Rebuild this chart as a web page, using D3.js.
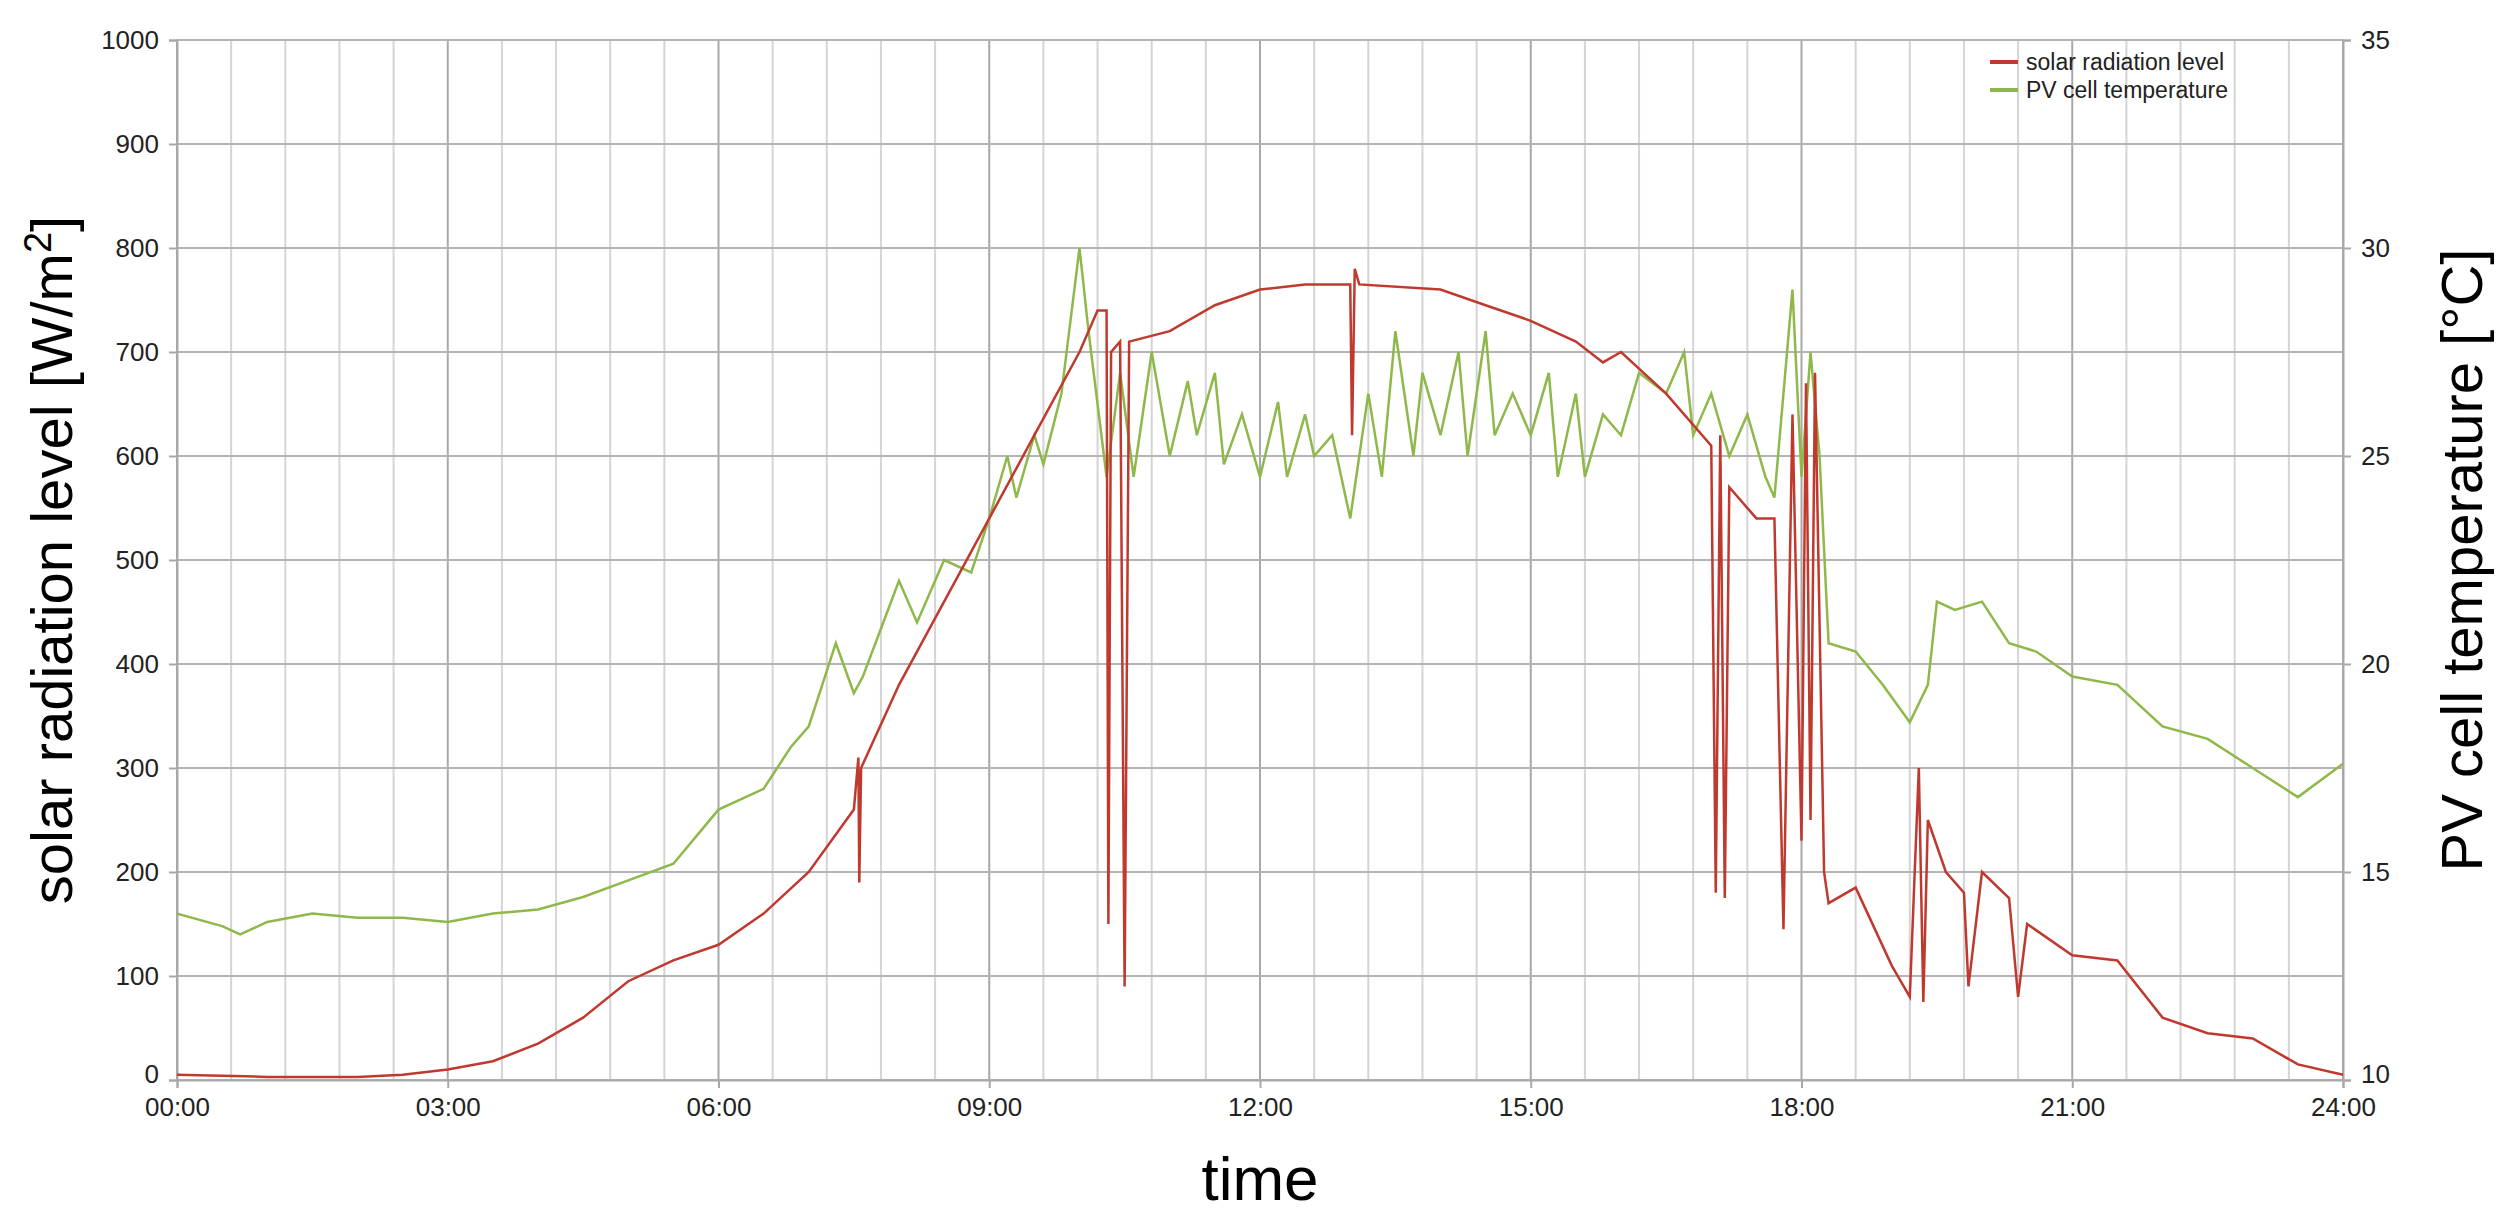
<!DOCTYPE html>
<html><head><meta charset="utf-8">
<script src="https://cdn.jsdelivr.net/npm/d3@7"></script>
<style>body{margin:0;background:#fff;font-family:"Liberation Sans",Arial,sans-serif}</style>
</head><body>
<script>
"use strict";

// hours of day, W/m2
const RAD_T = [0,1,2,2.5,3,3.5,4,4.5,5,5.5,6,6.5,7,7.5,7.55,7.56,7.58,8,8.5,9,9.5,10,10.2,10.3,10.32,10.35,10.45,10.5,10.55,11,11.5,12,12.5,13,13.02,13.05,13.1,14,14.5,15,15.5,15.8,16,16.5,17,17.05,17.1,17.15,17.2,17.5,17.7,17.8,17.9,18,18.05,18.1,18.15,18.25,18.3,18.6,19,19.2,19.3,19.35,19.4,19.6,19.8,19.85,20,20.3,20.4,20.5,21,21.5,22,22.5,23,23.5,24];
const RAD_V = [5,3,3,5,10,18,35,60,95,115,130,160,200,260,310,190,300,380,460,540,620,700,740,740,150,700,710,90,710,720,745,760,765,765,620,780,765,760,745,730,710,690,700,660,610,180,620,175,570,540,540,145,640,230,670,250,680,200,170,185,110,80,300,75,250,200,180,90,200,175,80,150,120,115,60,45,40,15,5];

// hours of day, degC
const TEMP_T = [0,0.5,0.7,1,1.5,2,2.5,3,3.5,4,4.5,5,5.5,6,6.3,6.5,6.8,7,7.3,7.5,7.6,8,8.2,8.5,8.8,9,9.2,9.3,9.5,9.6,9.8,10,10.1,10.3,10.45,10.6,10.8,11,11.2,11.3,11.5,11.6,11.8,12,12.2,12.3,12.5,12.6,12.8,13,13.2,13.35,13.5,13.7,13.8,14,14.2,14.3,14.5,14.6,14.8,15,15.2,15.3,15.5,15.6,15.8,16,16.2,16.5,16.7,16.8,17,17.2,17.4,17.6,17.7,17.9,18,18.1,18.2,18.3,18.6,18.9,19.2,19.4,19.5,19.7,20,20.3,20.6,21,21.5,22,22.5,23,23.5,24];
const TEMP_V = [14.0,13.7,13.5,13.8,14.0,13.9,13.9,13.8,14.0,14.1,14.4,14.8,15.2,16.5,16.8,17.0,18.0,18.5,20.5,19.3,19.7,22,21,22.5,22.2,23.5,25,24,25.5,24.8,26.5,30,28,24.5,27,24.5,27.5,25,26.8,25.5,27,24.8,26,24.5,26.3,24.5,26,25,25.5,23.5,26.5,24.5,28,25,27,25.5,27.5,25,28,25.5,26.5,25.5,27,24.5,26.5,24.5,26,25.5,27,26.5,27.5,25.5,26.5,25,26,24.5,24,29,24.5,27.5,25,20.5,20.3,19.5,18.6,19.5,21.5,21.3,21.5,20.5,20.3,19.7,19.5,18.5,18.2,17.5,16.8,17.6];

const LEFT_TICKS = d3.range(0, 1001, 100);
const RIGHT_TICKS = [10, 15, 20, 25, 30, 35];
const X_TICKS = d3.range(0, 25, 3);

const W = 2504, H = 1225;
const M = { left: 177, top: 40, right: 161, bottom: 145 };
const PW = W - M.left - M.right, PH = H - M.top - M.bottom;

const svg = d3.select("body").append("svg").attr("width", W).attr("height", H);
const g = svg.append("g").attr("transform", `translate(${M.left},${M.top})`);

const x = d3.scaleLinear().domain([0, 24]).range([0, PW]);
const yL = d3.scaleLinear().domain([0, 1000]).range([PH, 0]);
const yR = d3.scaleLinear().domain([10, 35]).range([PH, 0]);

// grid
g.selectAll("line.vx").data(d3.range(0, 24.01, 0.6)).join("line")
    .attr("x1", d => x(d)).attr("x2", d => x(d)).attr("y1", 0).attr("y2", PH)
    .attr("stroke", (d, i) => i % 5 === 0 ? "#a8a8a8" : "#d4d4d4").attr("stroke-width", 2);
g.selectAll("line.hy").data(LEFT_TICKS).join("line")
    .attr("x1", 0).attr("x2", PW).attr("y1", d => yL(d)).attr("y2", d => yL(d))
    .attr("stroke", "#b4b4b4").attr("stroke-width", 2);

const fmt = h => String(h).padStart(2, "0") + ":00";
const ax = g.append("g").attr("transform", `translate(0,${PH})`)
    .call(d3.axisBottom(x).tickValues(X_TICKS).tickFormat(fmt).tickSize(8).tickPadding(10));
const al = g.append("g").call(d3.axisLeft(yL).tickValues(LEFT_TICKS).tickFormat(d3.format("d")).tickSize(8).tickPadding(10));
const ar = g.append("g").attr("transform", `translate(${PW},0)`)
    .call(d3.axisRight(yR).tickValues(RIGHT_TICKS).tickSize(8).tickPadding(10));
[ax, al, ar].forEach(a => {
    a.selectAll("text").attr("font-size", 26).attr("fill", "#222").attr("font-family", "Liberation Sans, Arial");
    a.selectAll("line,path").attr("stroke", "#a8a8a8").attr("stroke-width", 2);
});
al.selectAll(".tick").filter(d => d === 0).select("text").attr("dy", "0.1em");
ar.selectAll(".tick").filter(d => d === 10).select("text").attr("dy", "0.1em");

const radData = RAD_T.map((t, i) => [t, RAD_V[i]]);
const tempData = TEMP_T.map((t, i) => [t, TEMP_V[i]]);

g.append("path").attr("d", d3.line().x(d => x(d[0])).y(d => yR(d[1]))(tempData))
    .attr("fill", "none").attr("stroke", "#8fb84a").attr("stroke-width", 2.5);
g.append("path").attr("d", d3.line().x(d => x(d[0])).y(d => yL(d[1]))(radData))
    .attr("fill", "none").attr("stroke", "#c0392f").attr("stroke-width", 2.5);

// legend
const leg = svg.append("g").attr("transform", "translate(1990,62)");
[["solar radiation level", "#c0392f"], ["PV cell temperature", "#8fb84a"]].forEach((s, i) => {
    leg.append("line").attr("x1", 0).attr("x2", 28).attr("y1", i * 28).attr("y2", i * 28)
        .attr("stroke", s[1]).attr("stroke-width", 4);
    leg.append("text").attr("x", 36).attr("y", i * 28 + 8).attr("font-size", 23).attr("fill", "#222").text(s[0]);
});

// titles
svg.append("text").attr("x", M.left + PW / 2).attr("y", 1200).attr("text-anchor", "middle")
    .attr("font-size", 62).text("time");
const lt = svg.append("text").attr("transform", `translate(72,${M.top + PH / 2}) rotate(-90)`)
    .attr("text-anchor", "middle").attr("font-size", 58);
lt.append("tspan").text("solar radiation level [W/m");
lt.append("tspan").attr("baseline-shift", "super").attr("font-size", 38).text("2");
lt.append("tspan").text("]");
svg.append("text").attr("transform", `translate(2482,${M.top + PH / 2}) rotate(-90)`)
    .attr("text-anchor", "middle").attr("font-size", 58).text("PV cell temperature [°C]");
</script>
</body></html>
